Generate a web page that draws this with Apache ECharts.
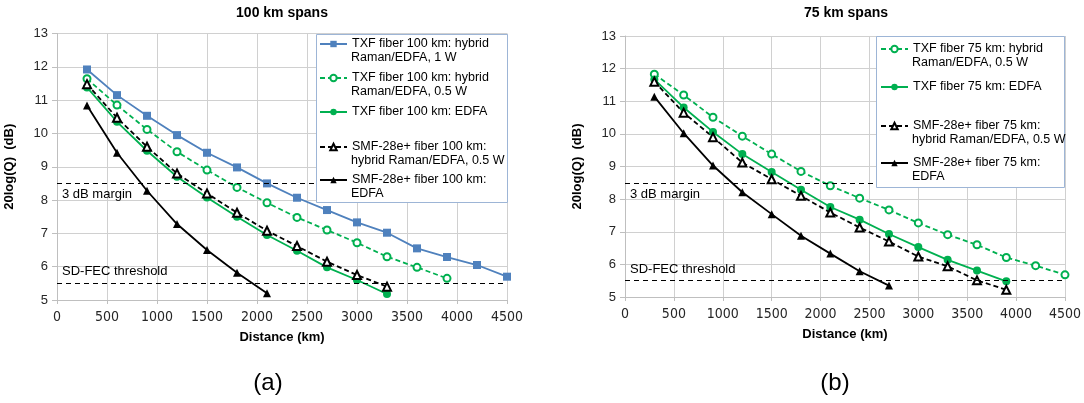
<!DOCTYPE html>
<html><head><meta charset="utf-8">
<script src="https://cdn.jsdelivr.net/npm/echarts@6/dist/echarts.min.js"></script>
<style>html,body{margin:0;padding:0;background:#fff}#c{width:1084px;height:403px}</style>
</head><body><div id="c"></div>
<script>
// ---- data ----
const distances = [300,600,900,1200,1500,1800,2100,2400,2700,3000,3300,3600,3900,4200,4500];
const xTicks = [0,500,1000,1500,2000,2500,3000,3500,4000,4500];
const yTicks = [5,6,7,8,9,10,11,12,13];
const thresholds = [8.5, 5.5];
const thresholdLabels = ['3 dB margin', 'SD-FEC threshold'];

// (a) 100 km spans
const txf100Hybrid1W   = [11.92,11.15,10.53,9.95,9.42,8.98,8.50,8.07,7.70,7.33,7.02,6.55,6.29,6.05,5.70];
const txf100Hybrid05W  = [11.64,10.85,10.12,9.45,8.90,8.38,7.92,7.48,7.10,6.72,6.30,5.98,5.65];
const txf100Edfa       = [11.38,10.35,9.48,8.70,8.08,7.50,6.95,6.48,5.98,5.60,5.18];
const smf100Hybrid05W  = [11.48,10.47,9.60,8.80,8.20,7.62,7.08,6.62,6.15,5.75,5.40];
const smf100Edfa       = [10.84,9.42,8.28,7.28,6.50,5.82,5.20];

// (b) 75 km spans
const txf75Hybrid05W   = [11.83,11.19,10.51,9.93,9.38,8.85,8.41,8.03,7.67,7.27,6.91,6.60,6.21,5.96,5.68];
const txf75Edfa        = [11.67,10.81,10.06,9.38,8.83,8.29,7.76,7.37,6.93,6.53,6.14,5.81,5.48];
const smf75Hybrid05W   = [11.60,10.65,9.90,9.12,8.61,8.10,7.59,7.13,6.70,6.24,5.94,5.51,5.22];
const smf75Edfa        = [11.14,10.02,9.03,8.21,7.54,6.88,6.33,5.79,5.35];

const names100 = [
  ['TXF fiber 100 km: hybrid', 'Raman/EDFA, 1 W'],
  ['TXF fiber 100 km: hybrid', 'Raman/EDFA, 0.5 W'],
  ['TXF fiber 100 km: EDFA', ''],
  ['SMF-28e+ fiber 100 km:', 'hybrid Raman/EDFA, 0.5 W'],
  ['SMF-28e+ fiber 100 km:', 'EDFA']
];
const names75 = [
  ['TXF fiber 75 km: hybrid', 'Raman/EDFA, 0.5 W'],
  ['TXF fiber 75 km: EDFA', ''],
  ['SMF-28e+ fiber 75 km:', 'hybrid Raman/EDFA, 0.5 W'],
  ['SMF-28e+ fiber 75 km:', 'EDFA']
];
const titles = ['100 km spans', '75 km spans'];
const panelLabels = ['(a)', '(b)'];

// ---- styling ----
const FONT = 'Liberation Sans, Arial, sans-serif';
const NARROW = '"Liberation Sans Narrow", "Arial Narrow", "DejaVu Sans Condensed", sans-serif';
const BLUE = '#4F81BD', GREEN = '#00B050', BLACK = '#000000';
const fullName = n => n[0] + (n[1] ? ' ' + n[1] : '');

function pairs(vals){ return vals.map((v,i)=>[distances[i], v]); }

function mk(nameArr, vals, color, symbol, dashed, gi, size){
  const empty = symbol.startsWith('empty');
  return {
    name: fullName(nameArr), type: 'line', xAxisIndex: gi, yAxisIndex: gi,
    data: pairs(vals), symbol: symbol, symbolSize: size,
    lineStyle: {color: color, width: 1.8, type: dashed ? [5,3] : 'solid'},
    itemStyle: {color: color, borderColor: color, borderWidth: empty ? 1 : 0},
    z: 3, animation: false
  };
}

function thresholdSeries(gi){
  return {
    name: 'thr' + gi, type: 'line', xAxisIndex: gi, yAxisIndex: gi, data: [], animation: false,
    markLine: {
      silent: true, symbol: 'none', animation: false,
      lineStyle: {color: '#000', type: [5,4], width: 1.2},
      data: [
        {yAxis: thresholds[0], label: {show: true, formatter: thresholdLabels[0], position: 'insideStartBottom', distance: [5,5], color: '#000', fontSize: 13, fontFamily: FONT}},
        {yAxis: thresholds[1], label: {show: true, formatter: thresholdLabels[1], position: 'insideStartTop', distance: [5,5], color: '#000', fontSize: 13, fontFamily: FONT}}
      ]
    }
  };
}

const grids = [
  {left: 57, right: 577, top: 33.5, bottom: 103},
  {left: 625, right: 17, top: 36, bottom: 106}
];

function xAx(gi){
  return {
    gridIndex: gi, type: 'value', min: xTicks[0], max: xTicks[xTicks.length-1], interval: 500,
    name: 'Distance (km)', nameLocation: 'middle', nameGap: 31,
    nameTextStyle: {fontFamily: FONT, fontWeight: 'bold', fontSize: 13, color: '#000'},
    axisLine: {lineStyle: {color: '#bfbfbf'}}, axisTick: {show: true, length: 4, lineStyle: {color: '#bfbfbf'}},
    splitLine: {lineStyle: {color: '#d0d0d0'}},
    axisLabel: {fontFamily: NARROW, fontSize: 14, color: '#262626', margin: 10, formatter: v => String(v)}
  };
}
function yAx(gi){
  return {
    gridIndex: gi, type: 'value', min: yTicks[0], max: yTicks[yTicks.length-1], interval: 1,
    name: '20log(Q)  (dB)', nameLocation: 'middle', nameGap: 41, nameRotate: 90,
    nameTextStyle: {fontFamily: FONT, fontWeight: 'bold', fontSize: 13, color: '#000'},
    axisLine: {show: true, lineStyle: {color: '#bfbfbf'}}, axisTick: {show: true, length: 5, lineStyle: {color: '#bfbfbf'}},
    splitLine: {lineStyle: {color: '#d0d0d0'}},
    axisLabel: {fontFamily: FONT, fontSize: 13, color: '#262626', margin: 9, formatter: v => String(v)}
  };
}

const series = [
  mk(names100[0], txf100Hybrid1W, BLUE, 'rect', false, 0, 8),
  mk(names100[1], txf100Hybrid05W, GREEN, 'emptyCircle', true, 0, 7),
  mk(names100[2], txf100Edfa, GREEN, 'circle', false, 0, 8),
  mk(names100[3], smf100Hybrid05W, BLACK, 'emptyTriangle', true, 0, 8),
  mk(names100[4], smf100Edfa, BLACK, 'triangle', false, 0, 8),
  mk(names75[0], txf75Hybrid05W, GREEN, 'emptyCircle', true, 1, 7),
  mk(names75[1], txf75Edfa, GREEN, 'circle', false, 1, 8),
  mk(names75[2], smf75Hybrid05W, BLACK, 'emptyTriangle', true, 1, 8),
  mk(names75[3], smf75Edfa, BLACK, 'triangle', false, 1, 8),
  thresholdSeries(0), thresholdSeries(1)
];

// legend layout (first line y centres)
const leg100Y = [44, 78, 112, 147, 180];
const leg75Y  = [49, 87, 126, 163];
const legends = [];
const graphics = [];
function addLegend(nameArr, y, left, textLeft){
  const fn = fullName(nameArr);
  legends.push({
    data: [fn], left: left, top: y - 7, padding: 0, itemWidth: 27, itemHeight: 8, itemGap: 0, z: 60,
    formatter: () => nameArr[0], selectedMode: false,
    textStyle: {fontFamily: FONT, fontSize: 12.5, color: '#000', lineHeight: 14}
  });
  if (nameArr[1]) {
    graphics.push({type: 'text', z: 60, x: textLeft, y: y + 14,
      style: {text: nameArr[1], font: '12.5px ' + FONT, fill: '#000', align: 'left', verticalAlign: 'middle', textAlign: 'left', textVerticalAlign: 'middle'}});
  }
}
names100.forEach((n,i)=>addLegend(n, leg100Y[i], 319, 351));
names75.forEach((n,i)=>addLegend(n, leg75Y[i], 880, 912));

graphics.push({type: 'rect', z: 50, shape: {x: 316.5, y: 34.5, width: 191, height: 168},
  style: {fill: '#fff', stroke: '#9DB5D6', lineWidth: 1}});
graphics.push({type: 'rect', z: 50, shape: {x: 876.5, y: 36.5, width: 188, height: 151},
  style: {fill: '#fff', stroke: '#9DB5D6', lineWidth: 1}});

const titleX = [282, 846];
titles.forEach((t,i)=>graphics.push({type: 'text', z: 60, x: titleX[i], y: 13,
  style: {text: t, font: 'bold 14px ' + FONT, fill: '#000', align: 'center', verticalAlign: 'middle', textAlign: 'center', textVerticalAlign: 'middle'}}));
const panelX = [268, 835];
panelLabels.forEach((t,i)=>graphics.push({type: 'text', z: 60, x: panelX[i], y: 383,
  style: {text: t, font: '24px ' + FONT, fill: '#000', align: 'center', verticalAlign: 'middle', textAlign: 'center', textVerticalAlign: 'middle'}}));

const chart = echarts.init(document.getElementById('c'), null, {renderer: 'canvas'});
chart.setOption({
  animation: false,
  backgroundColor: '#fff',
  grid: grids,
  xAxis: [xAx(0), xAx(1)],
  yAxis: [yAx(0), yAx(1)],
  legend: legends,
  graphic: graphics,
  series: series
});
</script></body></html>
